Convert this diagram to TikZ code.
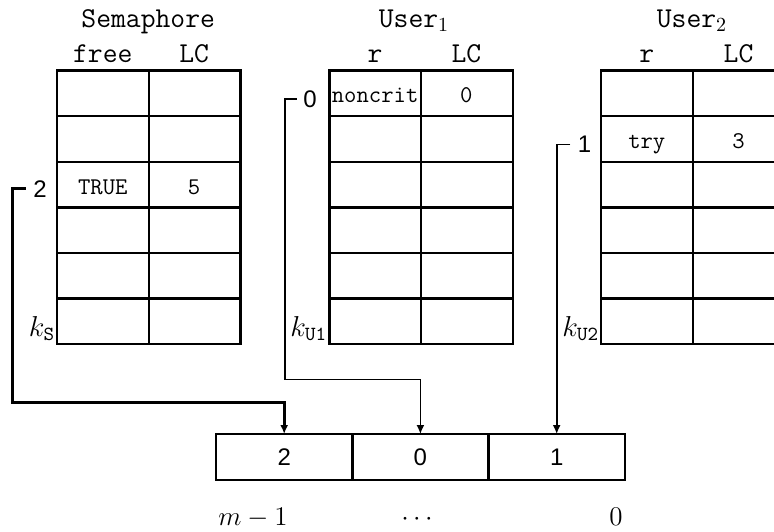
\RequirePackage{fix-cm}
\documentclass[tikz,border=0pt]{standalone}
\usepackage{fontspec}
\newfontfamily\hv{Liberation Sans}
\usetikzlibrary{arrows.meta}
\begin{document}
\begin{tikzpicture}[x=0.5pt,y=-0.5pt,
  grid/.style={line width=1.2pt},
  hdr/.style={font=\fontsize{14.4}{16}\selectfont\ttfamily, anchor=base, inner sep=0pt},
  cell/.style={font=\fontsize{12}{14}\selectfont\ttfamily, anchor=base, inner sep=0pt},
  idx/.style={font=\fontsize{12}{14}\selectfont\hv, anchor=base, inner sep=0pt},
  klab/.style={font=\fontsize{14.4}{16}\selectfont, anchor=base east, inner sep=0pt},
  blab/.style={font=\fontsize{13.5}{15}\selectfont, anchor=base, inner sep=0pt},
  slot/.style={draw, line width=1.2pt, minimum width=68pt, minimum height=23pt,
    inner sep=0pt, outer sep=0pt, font=\fontsize{12}{14}\selectfont\hv},
  connS/.style={line width=1.3pt, -{Latex[length=4.5pt,width=4pt]}},
  conn/.style={line width=0.8pt, -{Latex[length=4.5pt,width=4pt]}}]
\useasboundingbox (0,0) rectangle (774,531);
\clip (0,0) rectangle (774,531);

% tables
\foreach \xa in {57,329.3,601} {
  \draw[grid] (\xa,70.5) rectangle (\xa+183.4,344.1);
  \draw[grid] (\xa+91.7,70.5) -- (\xa+91.7,344.1);
  \foreach \i in {1,...,5} \draw[grid] (\xa,70.5+\i*45.6) -- (\xa+183.4,70.5+\i*45.6);
}

% headers
\node[hdr] (hS) at (148.2,27) {Semaphore};
\node[hdr] (hSf) at (102.8,62.5) {free};
\node[hdr] (hSl) at (194.1,62.5) {LC};
\node[hdr] (hU1) at (414,27) {User$_1$};
\node[hdr] (hU1r) at (375.1,62.5) {r};
\node[hdr] (hU1l) at (466.4,62.5) {LC};
\node[hdr] (hU2) at (692,27) {User$_2$};
\node[hdr] (hU2r) at (646.8,62.5) {r};
\node[hdr] (hU2l) at (738.5,62.5) {LC};

% cell contents
\node[cell] (cS1) at (102.8,194) {TRUE};
\node[cell] (cS2) at (194.1,194) {5};
\node[cell] (cU11) at (375.1,102.5) {noncrit};
\node[cell] (cU12) at (466.4,102.5) {0};
\node[cell] (cU21) at (646.8,148.5) {try};
\node[cell] (cU22) at (738.5,148.5) {3};

% k labels
\node[klab] (kS) at (55.5,336) {$k_{\mathtt{S}}$};
\node[klab] (kU1) at (327.5,336) {$k_{\mathtt{U1}}$};
\node[klab] (kU2) at (599.5,336) {$k_{\mathtt{U2}}$};

% index labels
\node[idx] (i2) at (40,197) {2};
\node[idx] (i0) at (310,107) {0};
\node[idx] (i1) at (584.5,152.7) {1};

% bottom array
\node[slot] (b2) at (284.2,457) {2};
\node[slot] (b0) at (420.4,457) {0};
\node[slot] (b1) at (556.7,457) {1};

\node[blab] (lm) at (253,525) {$m-1$};
\node[blab] (ld) at (417,525) {$\cdots$};
\node[blab] (lz) at (616,525) {$0$};

% connectors
\coordinate (vS) at (12.5,402.5);
\coordinate (vU) at (285,379.5);
\draw[connS] ([xshift=-3.5pt]i2.west) -| (vS) -| (b2.north);
\draw[conn] ([xshift=-3pt]i0.west) -| (vU) -| (b0.north);
\draw[conn] ([xshift=-3.5pt]i1.west) -| (b1.north);
\end{tikzpicture}
\end{document}
